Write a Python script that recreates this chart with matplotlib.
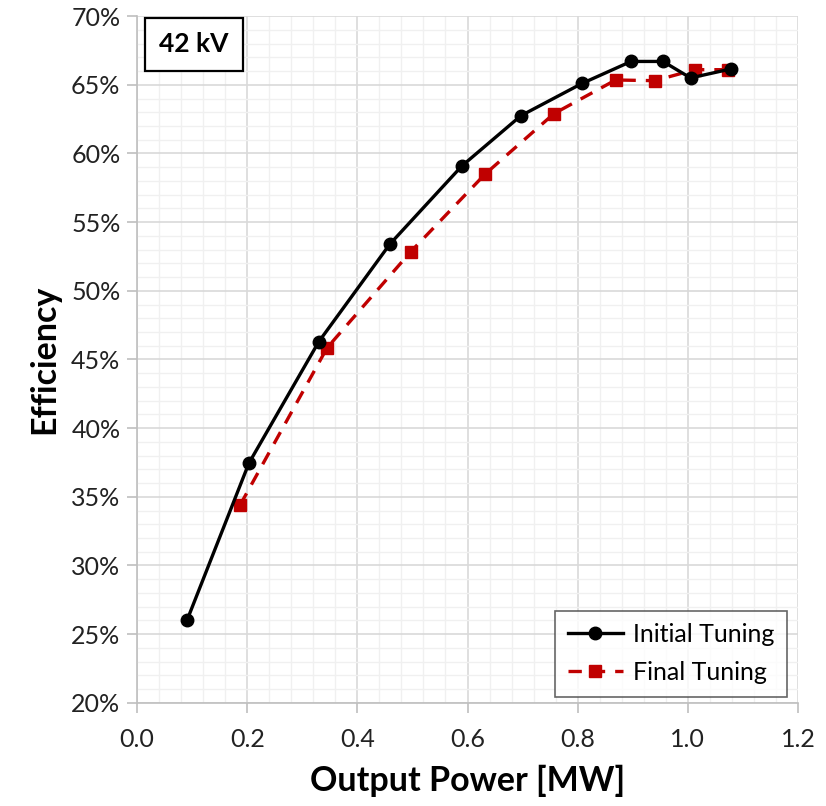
import matplotlib.pyplot as plt
from matplotlib.ticker import MultipleLocator, PercentFormatter

# Efficiency vs. output power at 42 kV
power_initial = [0.091, 0.203, 0.330, 0.459, 0.590, 0.697, 0.808, 0.897, 0.955, 1.005, 1.078]
eff_initial = [26.05, 37.45, 46.3, 53.4, 59.1, 62.75, 65.1, 66.7, 66.7, 65.5, 66.15]

power_final = [0.187, 0.345, 0.497, 0.632, 0.757, 0.869, 0.940, 1.013, 1.073]
eff_final = [34.4, 45.85, 52.85, 58.5, 62.9, 65.35, 65.3, 66.1, 66.1]

font = "Lato"
plt.rcParams["font.family"] = [font, "DejaVu Sans"]

fig = plt.figure(figsize=(8.26, 8.06), dpi=100)
ax = fig.add_axes([0.166, 0.128, 0.800, 0.852])

ax.plot(power_initial, eff_initial, color="black", lw=2.4, marker="o", ms=9,
        label="Initial Tuning", zorder=4)
ax.plot(power_final, eff_final, color="#C00000", lw=2.4, ls=(0, (4, 3)), marker="s",
        ms=9, label="Final Tuning", zorder=3)

ax.set_xlim(0, 1.2)
ax.set_ylim(20, 70)
ax.xaxis.set_major_locator(MultipleLocator(0.2))
ax.xaxis.set_minor_locator(MultipleLocator(0.04))
ax.yaxis.set_major_locator(MultipleLocator(5))
ax.yaxis.set_minor_locator(MultipleLocator(1))
ax.yaxis.set_major_formatter(PercentFormatter(decimals=0))
ax.xaxis.set_major_formatter(lambda v, pos: f"{v:.1f}")

ax.grid(which="major", color="#d9d9d9", lw=1.2)
ax.grid(which="minor", color="#f0f0f0", lw=1.0)
ax.set_axisbelow(True)

for side in ("top", "right"):
    ax.spines[side].set_visible(False)
for side in ("left", "bottom"):
    ax.spines[side].set_color("#bfbfbf")
    ax.spines[side].set_linewidth(1.2)

ax.tick_params(which="major", length=7, width=1.2, color="#bfbfbf",
               labelsize=18, labelcolor="#222222")
ax.tick_params(axis="x", pad=11)
ax.tick_params(axis="y", pad=5)
ax.tick_params(which="minor", length=0)

ax.set_xlabel("Output Power [MW]", fontsize=24.5, fontweight="bold", labelpad=10)
ax.set_ylabel("Efficiency", fontsize=24.5, fontweight="bold", labelpad=8)

ax.text(0.086, 0.959, "42 kV", transform=ax.transAxes, ha="center", va="center",
        fontsize=19, fontweight="bold",
        bbox=dict(boxstyle="square,pad=0.55", fc="white", ec="black", lw=1.6))

leg = ax.legend(loc="lower right", bbox_to_anchor=(0.983, 0.009), fontsize=18,
                frameon=True, fancybox=False, edgecolor="#404040",
                handlelength=2.2, borderpad=0.5, labelspacing=0.6,
                handletextpad=0.4, borderaxespad=0)
leg.get_frame().set_linewidth(1.2)

fig.savefig("out.png", dpi=100)
